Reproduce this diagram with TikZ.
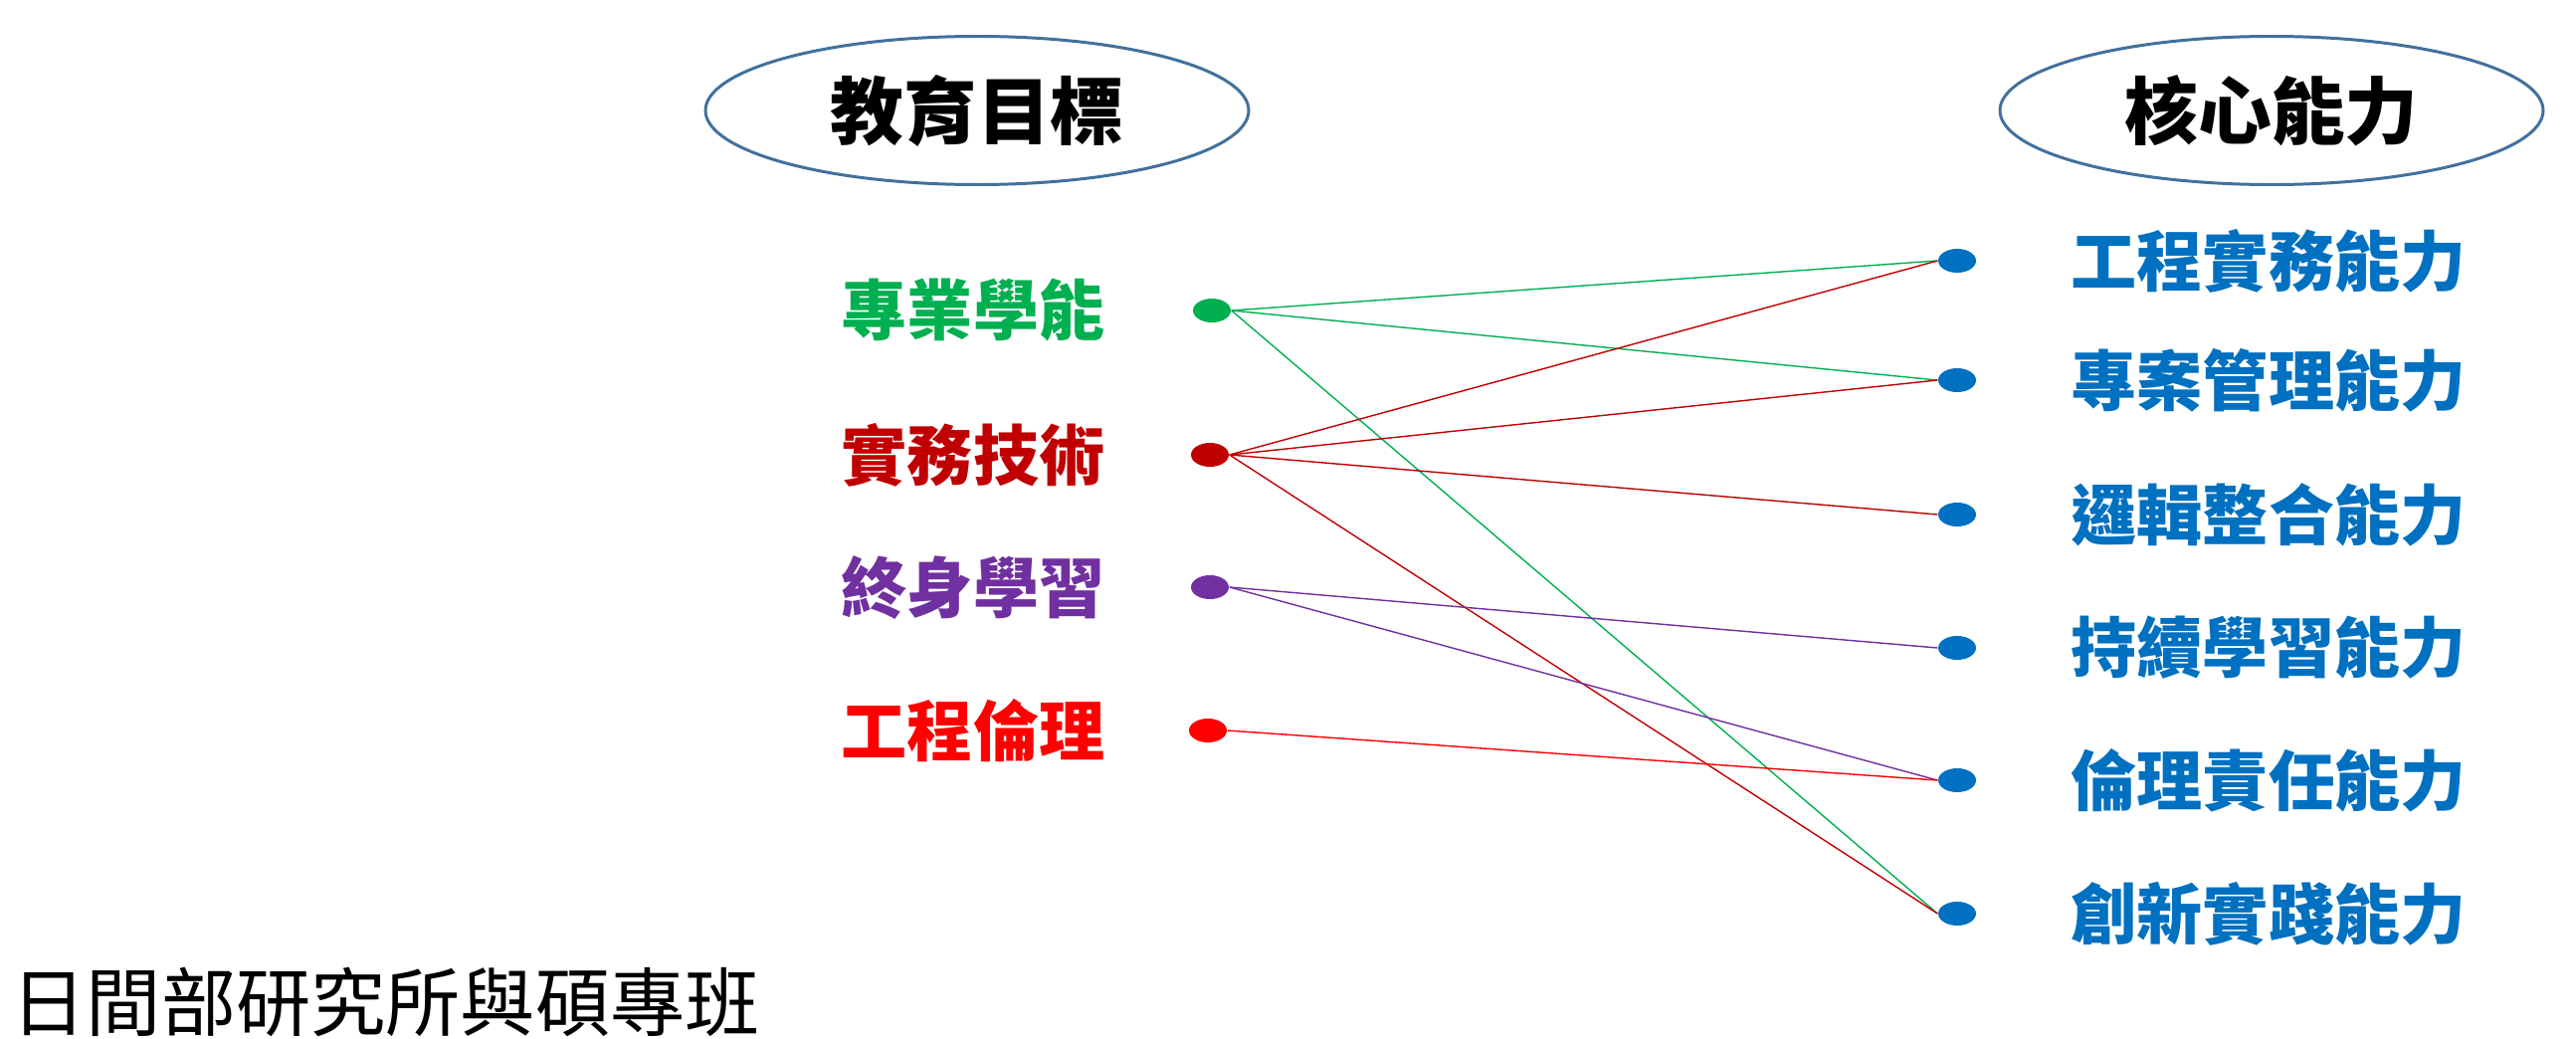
\documentclass[tikz,border=0pt]{standalone}
\usepackage{fontspec}
\usepackage{tikz}
\usepackage{xcolor}
\usetikzlibrary{shapes.geometric}
\newfontfamily\cjk{Noto Sans CJK TC}
\definecolor{ovalcolorc}{HTML}{41719C}
\definecolor{greenc}{HTML}{00B050}
\definecolor{darkredc}{HTML}{C00000}
\definecolor{purplec}{HTML}{7030A0}
\definecolor{redc}{HTML}{FF0000}
\definecolor{bluec}{HTML}{0070C0}
\tikzstyle{titleoval} =[
    ellipse,
    draw=ovalcolorc,
    line width=0.85pt,
    minimum width=54.6mm,
    minimum height=14.9mm,
    font=\cjk\bfseries\fontsize{21}{21}\selectfont
    ]
\tikzstyle{goal} = [
    inner sep=0pt,
    font=\cjk\bfseries\fontsize{18.8}{19}\selectfont
    ]
\tikzstyle{skill} = [
    goal,
    text=bluec
    ]
\tikzstyle{mydot} = [
    ellipse,
    inner sep=0pt,
    minimum width=3.8mm,
    minimum height=2.4mm
    ]
\tikzstyle{link} = [line width=0.4pt]

\begin{document}
\begin{tikzpicture}[x=0.1mm,y=-0.1mm]
\useasboundingbox (0,0) rectangle (2589,1044);

% headings
\node [titleoval] (goals) at (982,111) {教育目標};
\node [titleoval] (skills) at (2283,111) {核心能力};

% educational goals
\node [goal, text=greenc] (prof) at (978,312) {專業學能};
\node [goal, text=darkredc] (prac) at (978,457) {實務技術};
\node [goal, text=purplec] (life) at (978,590) {終身學習};
\node [goal, text=redc] (ethic) at (978,734) {工程倫理};

\node [mydot, fill=greenc] (dprof) at (1218,312) {};
\node [mydot, fill=darkredc] (dprac) at (1216,457) {};
\node [mydot, fill=purplec] (dlife) at (1216,590) {};
\node [mydot, fill=redc] (dethic) at (1214,734) {};

% core abilities
\node [mydot, fill=bluec] (dengr) at (1967,262) {};
\node [mydot, fill=bluec] (dproj) at (1967,382) {};
\node [mydot, fill=bluec] (dlogic) at (1967,517) {};
\node [mydot, fill=bluec] (dlearn) at (1967,651) {};
\node [mydot, fill=bluec] (dresp) at (1967,784) {};
\node [mydot, fill=bluec] (dinno) at (1967,918) {};

\node [skill] (engr) at (2280,262) {工程實務能力};
\node [skill] (proj) at (2280,382) {專案管理能力};
\node [skill] (logic) at (2280,517) {邏輯整合能力};
\node [skill] (learn) at (2280,651) {持續學習能力};
\node [skill] (resp) at (2280,784) {倫理責任能力};
\node [skill] (inno) at (2280,918) {創新實踐能力};

% links
\draw [link, greenc] (dprof.east) -- (dengr.west);
\draw [link, greenc] (dprof.east) -- (dproj.west);
\draw [link, greenc] (dprof.east) -- (dinno.west);
\draw [link, darkredc] (dprac.east) -- (dengr.west);
\draw [link, darkredc] (dprac.east) -- (dproj.west);
\draw [link, darkredc] (dprac.east) -- (dlogic.west);
\draw [link, darkredc] (dprac.east) -- (dinno.west);
\draw [link, purplec] (dlife.east) -- (dlearn.west);
\draw [link, purplec] (dlife.east) -- (dresp.west);
\draw [link, redc] (dethic.east) -- (dresp.west);

\node [anchor=west, inner sep=0pt, font=\cjk\fontsize{21.4}{21}\selectfont] (campus) at (11,1007) {日間部研究所與碩專班};
\end{tikzpicture}
\end{document}
